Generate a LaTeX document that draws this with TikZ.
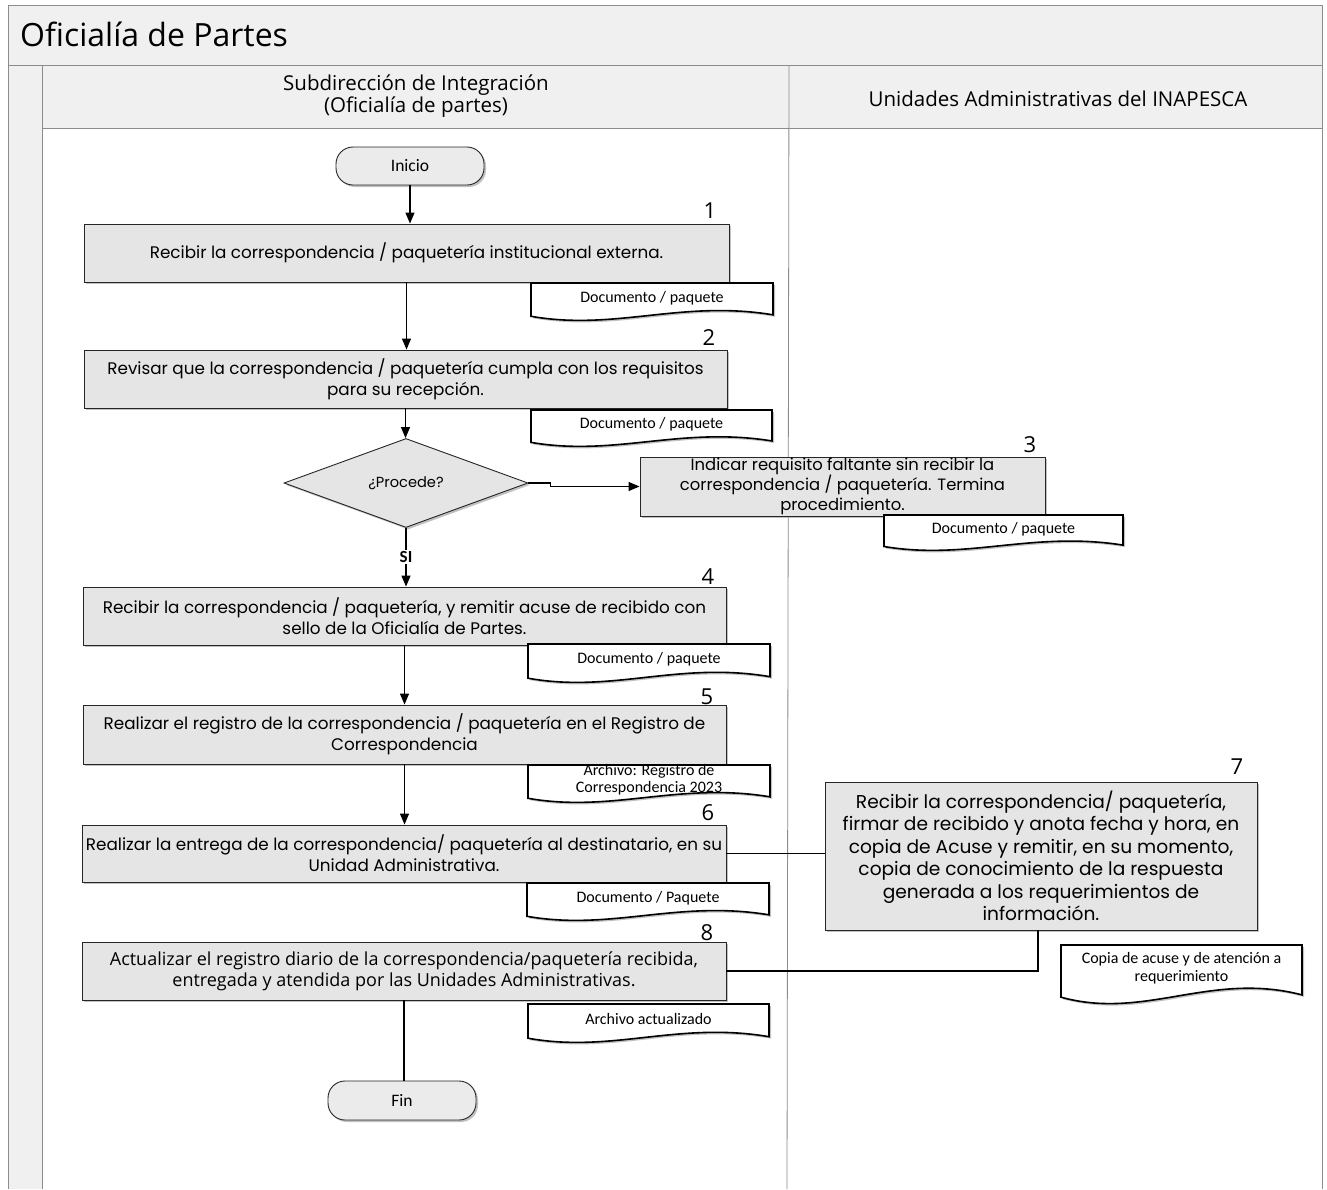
\documentclass[tikz,border=0pt]{standalone}
\usepackage{fontspec}
\setmainfont{Open Sans}
\newfontfamily\boxfont{Poppins}
\newfontfamily\hdrfont{Open Sans}
\newfontfamily\docfont{Carlito}
\usetikzlibrary{shapes.geometric,arrows.meta,shadows}

\tikzset{
  lanefill/.style={fill=black!6},
  laneline/.style={draw=black!45, line width=0.8pt},
  shade/.style={drop shadow={shadow xshift=2pt, shadow yshift=-2pt, fill=black!40, opacity=0.6}},
  proc/.style={draw=black!85, line width=0.9pt, fill=black!10, shade, align=center,
    inner sep=0pt, font=\boxfont\fontsize{16.8}{21}\selectfont},
  term/.style={draw=black!85, line width=0.9pt, fill=black!8, shade, rounded corners=17pt,
    inner sep=0pt, font=\docfont\fontsize{17.5}{20}\selectfont},
  decision/.style={diamond, draw=black!85, line width=0.9pt, fill=black!10, shade,
    inner sep=0pt, font=\boxfont\fontsize{14.6}{18}\selectfont},
  docline/.style={draw=black, line width=1.6pt, fill=white, shade},
  doctext/.style={align=center, inner sep=0pt, font=\docfont\fontsize{16}{17.5}\selectfont},
  stepno/.style={inner sep=0pt, font=\hdrfont\fontsize{22}{24}\selectfont},
  flow/.style={draw=black, line width=1.2pt, -{Triangle[length=11pt,width=9pt]}},
  link/.style={draw=black, line width=1.2pt},
}

% document symbol: name, left, top, right, bottom, text
\newcommand\docshape[6]{%
  \pgfmathsetmacro\dw{#4-#2}%
  \pgfmathsetmacro\dh{#5-#3}%
  \draw[docline] (#2,#3) -- (#4,#3) -- (#4,{#5-0.14*\dh})
    .. controls ({#2+0.62*\dw},{#5-0.55*\dh}) and ({#2+0.35*\dw},{#5+0.3*\dh}) ..
    (#2,{#5-0.1*\dh}) -- cycle;
  \node[doctext] (#1) at ({(#2+#4)/2},{#3+0.4*\dh}) {#6};
}

\begin{document}
\begin{tikzpicture}[x=1pt, y=-1pt]
\useasboundingbox (0,0) rectangle (1327,1189);

% pool and lanes
\fill[lanefill] (8,5) rectangle (1322,1189);
\fill[white] (42,128) rectangle (1322,1189);
\draw[laneline] (8,5) -- (1322,5);
\draw[laneline] (8,5) -- (8,1189);
\draw[laneline] (1322,5) -- (1322,1189);
\draw[laneline] (8,65) -- (1322,65);
\draw[laneline] (42,65) -- (42,1189);
\draw[laneline] (42,128) -- (1322,128);
\draw[laneline] (789,65) -- (787,1189);

\node[anchor=west, inner sep=0pt, font=\hdrfont\fontsize{32}{36}\selectfont] (title) at (20,34) {Oficialía de Partes};
\node[align=center, inner sep=0pt, font=\hdrfont\fontsize{20.5}{22.5}\selectfont] (lane1) at (416,96)
  {Subdirección de Integración\\(Oficialía de partes)};
\node[inner sep=0pt, font=\hdrfont\fontsize{20.5}{22}\selectfont] (lane2) at (1058,99)
  {Unidades Administrativas del INAPESCA};

% process
\node[term, minimum width=148pt, minimum height=38pt] (ini) at (410,166) {Inicio};

\node[proc, minimum width=645pt, minimum height=58pt] (b1) at (406.5,253)
  {Recibir la correspondencia / paquetería institucional externa.};
\node[proc, minimum width=643pt, minimum height=58pt] (b2) at (405.5,379)
  {Revisar que la correspondencia /  paquetería cumpla con los requisitos\\para su recepción.};
\node[decision, minimum width=244pt, minimum height=89pt] (dia) at (406,483) {¿Procede?};
\node[proc, minimum width=405pt, minimum height=59pt, font=\boxfont\fontsize{16.4}{20}\selectfont] (b3) at (842.5,486.5)
  {\raisebox{-6pt}{\parbox{400pt}{\centering Indicar requisito faltante sin recibir la\\correspondencia / paquetería. Termina\\procedimiento.}}};
\node[proc, minimum width=643pt, minimum height=58pt] (b4) at (404.5,616)
  {Recibir la correspondencia /  paquetería,  y remitir acuse de recibido con\\sello de la Oficialía de Partes.};
\node[proc, minimum width=643pt, minimum height=59pt] (b5) at (404.5,734.5)
  {Realizar el registro de la correspondencia / paquetería en el Registro de\\Correspondencia};
\node[proc, minimum width=644pt, minimum height=57pt] (b6) at (404,853.5)
  {Realizar la entrega de la correspondencia/ paquetería al destinatario, en su\\Unidad Administrativa.};
\node[proc, minimum width=432pt, minimum height=148pt, font=\boxfont\fontsize{18.6}{22.5}\selectfont] (b7) at (1041,856)
  {Recibir la correspondencia/ paquetería,\\firmar de recibido y anota fecha y hora, en\\copia de Acuse y remitir, en su momento,\\copia de conocimiento de la respuesta\\generada a los requerimientos de\\información.};
\node[proc, minimum width=644pt, minimum height=58pt, font=\hdrfont\fontsize{18}{21}\selectfont] (b8) at (404,971)
  {Actualizar el registro diario de la correspondencia/paquetería recibida,\\entregada y atendida por las Unidades Administrativas.};
\node[term, minimum width=148pt, minimum height=39pt] (fin) at (402,1100.5) {Fin};

% step numbers
\node[stepno] (n1) at (710,211) {1};
\node[stepno] (n2) at (709,338) {2};
\node[stepno] (n3) at (1030,445) {3};
\node[stepno] (n4) at (708,577) {4};
\node[stepno] (n5) at (707,697) {5};
\node[stepno] (n6) at (708,813) {6};
\node[stepno] (n7) at (1237,767) {7};
\node[stepno] (n8) at (707,933) {8};

% documents produced at each step
\docshape{d1}{531}{283}{773}{320}{Documento / paquete}
\docshape{d2}{531}{410}{772}{446}{Documento / paquete}
\docshape{d3}{884}{515}{1123}{550}{Documento / paquete}
\docshape{d4}{528}{644}{770}{682}{Documento / paquete}
\docshape{d5}{528}{765}{770}{802}{Archivo: Registro de\\Correspondencia 2023}
\docshape{d6}{527}{883}{769}{920}{Documento / Paquete}
\docshape{d7}{1061}{945}{1302}{1003}{Copia de acuse y de atención a\\requerimiento}
\docshape{d8}{528}{1004}{769}{1042}{Archivo actualizado}

% connectors
\draw[flow] (ini.south) -- (ini.south |- b1.north);
\draw[flow] (b1.south) -- (b1.south |- b2.north);
\draw[flow] (b2.south) -- (b2.south |- dia.north);
\draw[flow] (dia.east) -- ++(22,0) |- (b3.west);
\draw[flow] (dia.south) -- node[fill=white, inner sep=1.5pt, font=\docfont\bfseries\fontsize{17}{18}\selectfont] (si) {SI} (dia.south |- b4.north);
\draw[flow] (b4.south) -- (b4.south |- b5.north);
\draw[flow] (b5.south) -- (b5.south |- b6.north);
\draw[link] (b6.east) -- (b6.east -| b7.west);
\draw[link] ([xshift=-3pt]b7.south) |- (b8.east);
\draw[link] (b8.south) -- (b8.south |- fin.north);
\end{tikzpicture}
\end{document}
